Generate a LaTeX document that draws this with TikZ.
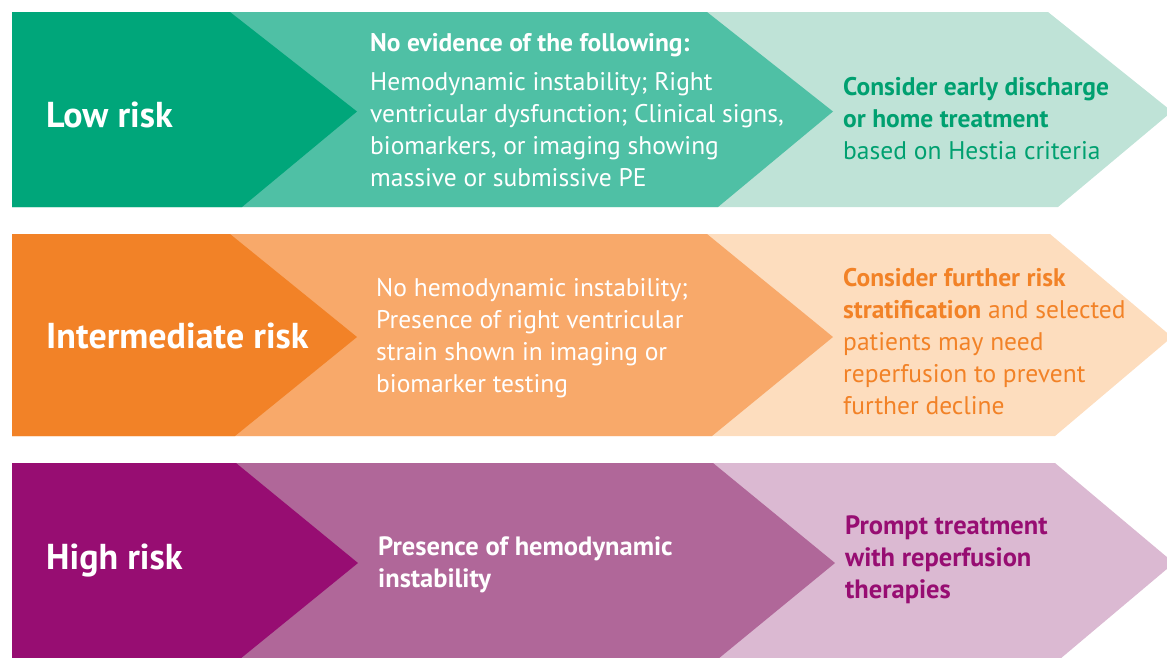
\documentclass[tikz,border=0pt]{standalone}
\usepackage{fontspec}
\setmainfont{PT Sans}
\definecolor{gD}{HTML}{00A67A}
\definecolor{gM}{HTML}{4FC0A5}
\definecolor{gL}{HTML}{BFE3D7}
\definecolor{gT}{HTML}{00A070}
\definecolor{oD}{HTML}{F28227}
\definecolor{oM}{HTML}{F8A96A}
\definecolor{oL}{HTML}{FDDDBE}
\definecolor{oT}{HTML}{F28227}
\definecolor{pD}{HTML}{970D72}
\definecolor{pM}{HTML}{B06799}
\definecolor{pL}{HTML}{DBB9D2}
\definecolor{pT}{HTML}{970D72}
\newcommand\mychev[7]{% color, left, xa, tip, xb, top, bottom
  \fill[#1] (#2,#6) -- (#3,#6) -- (#4,{(#6+#7)/2+2}) -- (#5,#7) -- (#2,#7) -- cycle;}
\begin{document}
\begin{tikzpicture}[x=1pt,y=-1pt,
  risk/.style={anchor=west,inner sep=0pt,text=white,font=\fontsize{36}{38}\selectfont\bfseries},
  body/.style={anchor=west,inner sep=0pt,align=left,font=\fontsize{25.5}{32}\selectfont},
  boldbody/.style={body,font=\fontsize{26.5}{32}\selectfont\bfseries}]
\useasboundingbox (0,0) rectangle (1167,657);
% row 1
\mychev{gL}{12}{1048}{1172}{1058}{12}{207}
\mychev{gM}{12}{707}{833}{718}{12}{207}
\mychev{gD}{12}{230}{357}{242}{12}{207}
% row 2
\mychev{oL}{12}{1050}{1172}{1055}{234}{436}
\mychev{oM}{12}{707}{833}{712}{234}{436}
\mychev{oD}{12}{230}{357}{235}{234}{436}
% row 3
\mychev{pL}{12}{1055}{1174}{1060}{463}{659}
\mychev{pM}{12}{713}{835}{718}{463}{659}
\mychev{pD}{12}{236}{358}{240}{463}{659}
% texts
\node[risk] (low) at (46,115) {Low risk};
\node[risk] (int) at (46,336) {Intermediate risk};
\node[risk] (high) at (46,561) {High risk};
\node[body,text=white] (lowm) at (370,110) {\textbf{No evidence of the following:}\\[7pt]
Hemodynamic instability; Right\\ ventricular dysfunction; Clinical signs,\\
biomarkers, or imaging showing\\ massive or submissive PE};
\node[body,text=gT] (lowr) at (843,119) {\textbf{Consider early discharge}\\ \textbf{or home treatment}\\ based on Hestia criteria};
\node[body,text=white] (intm) at (376,338) {No hemodynamic instability;\\ Presence of right ventricular\\ strain shown in imaging or\\ biomarker testing};
\node[body,text=oT] (intr) at (843,342) {\textbf{Consider further risk}\\ \textbf{stratification} and selected\\ patients may need\\ reperfusion to prevent\\ further decline};
\node[boldbody,text=white] (highm) at (378,565) {Presence of hemodynamic\\ instability};
\node[boldbody,text=pT] (highr) at (845,560) {Prompt treatment\\ with reperfusion\\ therapies};
\end{tikzpicture}
\end{document}
